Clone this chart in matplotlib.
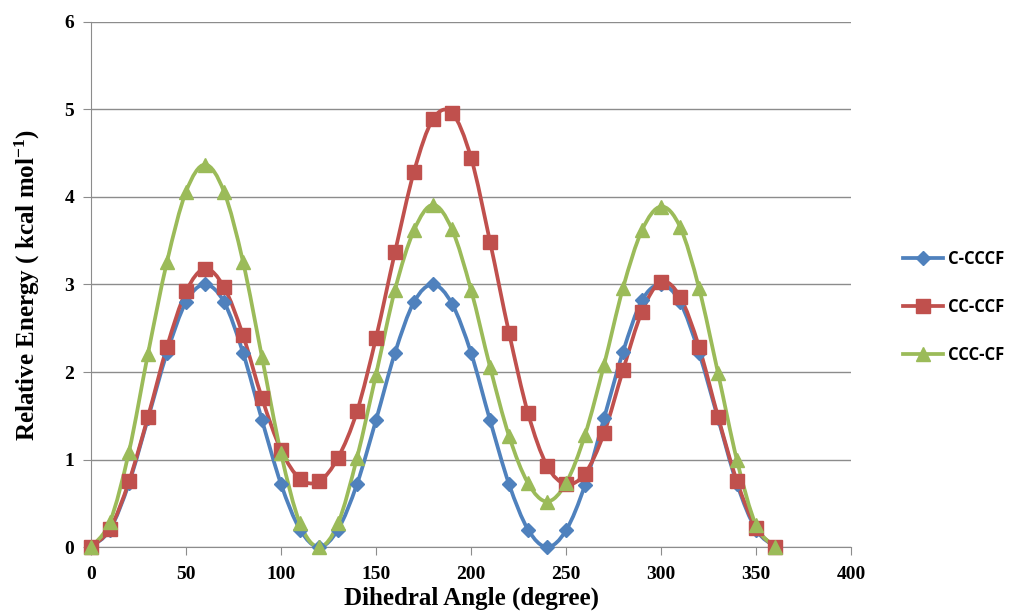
import numpy as np
import matplotlib
matplotlib.use("Agg")
import matplotlib.pyplot as plt
from matplotlib.path import Path
from matplotlib.patches import PathPatch
from matplotlib.lines import Line2D

angles = list(range(0, 361, 10))

c_cccf = [0, 0.2, 0.73, 1.47, 2.22, 2.8, 3.0, 2.8, 2.22, 1.45, 0.72, 0.2,
          0, 0.2, 0.72, 1.45, 2.22, 2.8, 3.0, 2.78, 2.22, 1.45, 0.72, 0.2,
          0, 0.19, 0.71, 1.47, 2.23, 2.82, 3.0, 2.8, 2.22, 1.47, 0.72, 0.2, 0]

cc_ccf = [0, 0.21, 0.75, 1.49, 2.29, 2.92, 3.18, 2.97, 2.42, 1.70, 1.11, 0.78,
          0.75, 1.02, 1.55, 2.39, 3.37, 4.29, 4.89, 4.96, 4.45, 3.49, 2.45, 1.53,
          0.93, 0.72, 0.84, 1.30, 2.02, 2.69, 3.03, 2.86, 2.29, 1.49, 0.75, 0.22, 0]

ccc_cf = [0, 0.29, 1.09, 2.21, 3.26, 4.06, 4.37, 4.06, 3.26, 2.17, 1.07, 0.27,
          0, 0.27, 1.02, 1.97, 2.94, 3.62, 3.91, 3.63, 2.94, 2.06, 1.27, 0.73,
          0.52, 0.73, 1.28, 2.08, 2.96, 3.62, 3.89, 3.66, 2.96, 1.99, 0.99, 0.25, 0]

names = ["C-CCCF", "CC-CCF", "CCC-CF"]
colors = ["#4F81BD", "#C0504D", "#9BBB59"]
markers = ["D", "s", "^"]
sizes = [7, 10, 10]

plt.rcParams["font.family"] = "Liberation Serif"
plt.rcParams["font.weight"] = "bold"
plt.rcParams["mathtext.default"] = "regular"


def smooth_path(x, y):
    # Excel-like smoothed line as cubic bezier segments
    x = np.asarray(x, float)
    y = np.asarray(y, float)
    n = len(x)
    verts = [(x[0], y[0])]
    codes = [Path.MOVETO]
    for i in range(n - 1):
        i0 = max(i - 1, 0)
        i3 = min(i + 2, n - 1)
        c1 = (x[i] + (x[i + 1] - x[i0]) / 6, y[i] + (y[i + 1] - y[i0]) / 6)
        c2 = (x[i + 1] - (x[i3] - x[i]) / 6, y[i + 1] - (y[i3] - y[i]) / 6)
        verts += [c1, c2, (x[i + 1], y[i + 1])]
        codes += [Path.CURVE4] * 3
    return Path(verts, codes)


fig = plt.figure(figsize=(10.09, 6.14), dpi=100)
ax = fig.add_axes([0.0902, 0.1091, 0.7532, 0.8551])

handles = []
for vals, name, col, mk, ms in zip([c_cccf, cc_ccf, ccc_cf], names, colors, markers, sizes):
    ax.add_patch(PathPatch(smooth_path(angles, vals), facecolor="none",
                           edgecolor=col, lw=2.7, clip_on=False, zorder=3))
    ax.plot(angles, vals, linestyle="none", marker=mk, ms=ms, color=col,
            clip_on=False, zorder=4)
    handles.append(Line2D([], [], color=col, lw=2.7, marker=mk, ms=ms))

ax.set_xlim(0, 400)
ax.set_ylim(0, 6)
ax.set_xticks(range(0, 401, 50))
ax.set_yticks(range(0, 7))
ax.yaxis.grid(True, color="#8C8C8C", lw=1.0)
ax.set_axisbelow(True)
for s in ["top", "right"]:
    ax.spines[s].set_visible(False)
for s in ["left", "bottom"]:
    ax.spines[s].set_color("#8C8C8C")
ax.tick_params(axis="both", colors="#8C8C8C", length=6, labelsize=14,
               labelcolor="black")
ax.tick_params(axis="y", pad=6)
ax.tick_params(axis="x", pad=8)
for lab in ax.get_xticklabels() + ax.get_yticklabels():
    lab.set_fontweight("bold")

ax.set_xlabel("Dihedral Angle (degree)", fontsize=18, fontweight="bold", labelpad=2)
ax.set_ylabel("Relative Energy ( kcal mol$^{-1}$)", fontsize=18,
              fontweight="bold", labelpad=16)

leg = fig.legend(handles, names, loc="center left", bbox_to_anchor=(0.88, 0.5),
                 frameon=False, handlelength=2.4, labelspacing=1.8,
                 handletextpad=0.3,
                 prop={"family": "Open Sans", "weight": "bold", "size": 12})

fig.savefig("out.png", dpi=100)
